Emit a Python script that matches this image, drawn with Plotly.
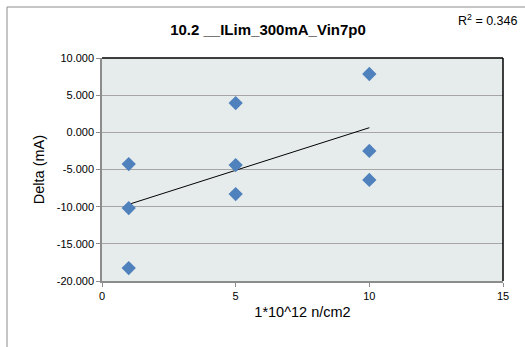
import numpy as np
import plotly.graph_objects as go

fluence = [1, 1, 1, 5, 5, 5, 10, 10, 10]
delta_ma = [-4.27, -10.19, -18.26, 3.94, -4.4, -8.3, 7.85, -2.5, -6.4]
y_ticks = [10, 5, 0, -5, -10, -15, -20]
y_tick_text = ["10.000", "5.000", "0.000", "-5.000", "-10.000", "-15.000", "-20.000"]
x_ticks = [0, 5, 10, 15]
title_text = "10.2 __ILim_300mA_Vin7p0"
r2_text = "R<sup>2</sup> = 0.346"

slope, intercept = np.polyfit(fluence, delta_ma, 1)
tx = [min(fluence), max(fluence)]
ty = [slope * v + intercept for v in tx]

W, H = 525, 347
L, R, T, B = 102, 22, 58, 66
pw, ph = W - L - R, H - T - B

def px(x):
    return (x - L) / pw

def py(y):
    return (H - B - y) / ph

font = "Liberation Sans"
fig = go.Figure()
fig.add_trace(go.Scatter(x=tx, y=ty, mode="lines", line=dict(color="black", width=1), showlegend=False, hoverinfo="skip"))
fig.add_trace(go.Scatter(x=fluence, y=delta_ma, mode="markers",
                         marker=dict(symbol="diamond", size=11, color="#4F81BD"), showlegend=False))

fig.update_layout(
    width=W, height=H,
    margin=dict(l=L, r=R, t=T, b=B),
    paper_bgcolor="white", plot_bgcolor="#E6ECEC",
    font=dict(family=font, size=11, color="black"),
    title=dict(text="<b>" + title_text + "</b>", xref="container", x=268 / W, xanchor="center",
               yref="container", y=1 - 30 / H, yanchor="middle",
               font=dict(size=15, family=font)),
    xaxis=dict(range=[0, 15], tickvals=x_ticks, showgrid=False, zeroline=False,
               showline=True, linecolor="#8C8C8C", linewidth=1.5, ticks="outside", ticklen=4,
               tickcolor="#8C8C8C", tickfont=dict(size=11),
               title=dict(text="1*10^12 n/cm2", font=dict(size=14.5), standoff=6)),
    yaxis=dict(range=[-20, 10], tickvals=y_ticks, ticktext=y_tick_text, showgrid=True,
               gridcolor="#A6A6A6", gridwidth=1, zeroline=False,
               showline=True, linecolor="#8C8C8C", linewidth=1.5, ticks="outside", ticklen=4,
               tickcolor="#8C8C8C", tickfont=dict(size=11),
               title=dict(text="Delta (mA)", font=dict(size=14.5), standoff=9)),
)

# top and right borders of plot area
fig.add_shape(type="line", xref="paper", yref="paper", x0=0, x1=1, y0=1, y1=1, line=dict(color="black", width=1.5))
fig.add_shape(type="line", xref="paper", yref="paper", x0=1, x1=1, y0=0, y1=1, line=dict(color="black", width=1.5))
# chart outer border (top and left)
fig.add_shape(type="line", xref="paper", yref="paper", x0=px(7), x1=px(525), y0=py(7), y1=py(7),
              line=dict(color="#8C8C8C", width=1))
fig.add_shape(type="line", xref="paper", yref="paper", x0=px(7), x1=px(7), y0=py(7), y1=py(347),
              line=dict(color="#8C8C8C", width=1))

fig.add_annotation(text=r2_text, xref="paper", yref="paper", x=px(519), y=py(20), xanchor="right",
                   yanchor="middle", showarrow=False, font=dict(size=12.5, family=font))

fig.write_html("out.html", config={"displayModeBar": False},
               post_script="document.body.style.margin='0';document.body.style.overflow='hidden';")
